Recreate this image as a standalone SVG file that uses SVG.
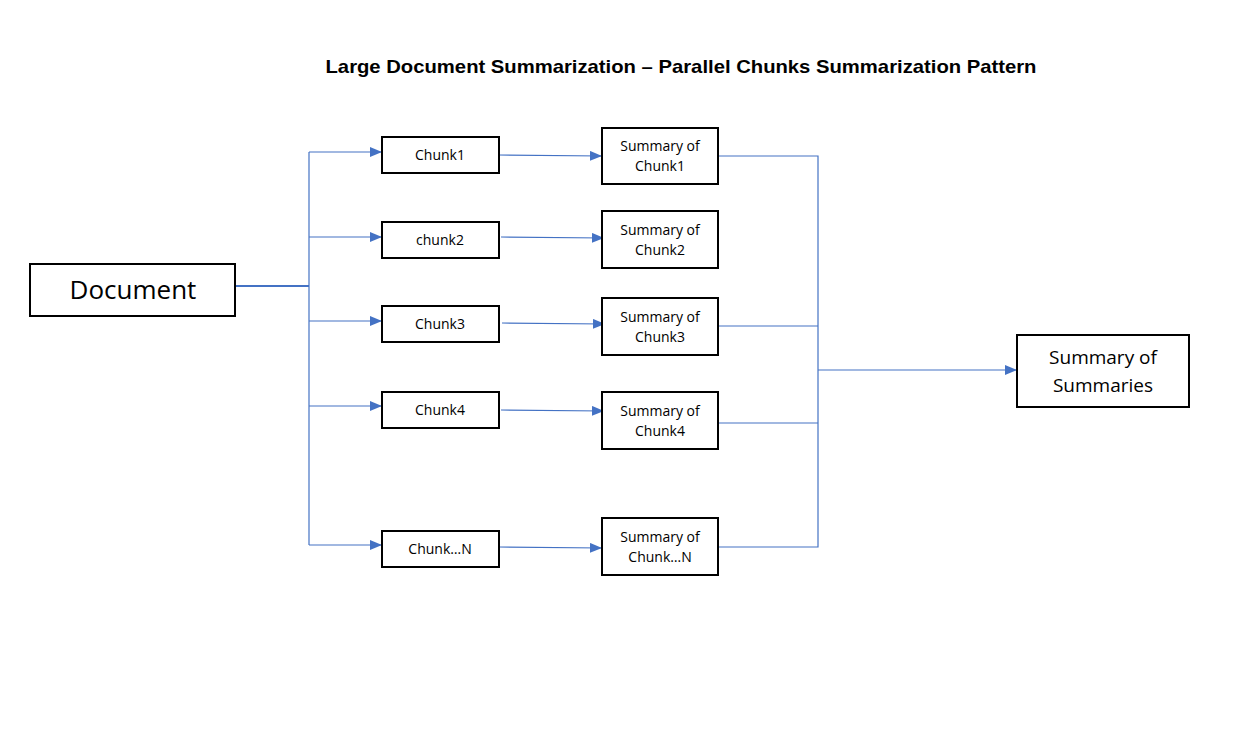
<svg xmlns="http://www.w3.org/2000/svg" width="1251" height="754" viewBox="0 0 1251 754">
<defs>
<marker id="ah" viewBox="0 0 12 10" refX="12" refY="5" markerWidth="12" markerHeight="10" markerUnits="userSpaceOnUse" orient="auto">
<path d="M0,0 L12,5 L0,10 Z" fill="#4472C4"/>
</marker>
<style>
.box{fill:#fff;stroke:#000;stroke-width:2}
.t{font-family:"Open Sans","Liberation Sans",sans-serif;fill:#000;text-anchor:middle}
.s{font-size:14px}
.c{fill:none;stroke:#4472C4;stroke-width:1.2}
.a{marker-end:url(#ah)}
</style>
</defs>
<rect width="1251" height="754" fill="#fff"/>
<text x="681" y="73" class="t" style="font-family:'Liberation Sans',sans-serif;font-size:19px;font-weight:bold" textLength="711" lengthAdjust="spacingAndGlyphs">Large Document Summarization – Parallel Chunks Summarization Pattern</text>
<g id="connectors">
<path class="c" style="stroke-width:2" d="M235,286 H309"/>
<path class="c" d="M309,152 V545"/>
<path class="c a" d="M309,152 H382"/>
<path class="c a" d="M309,237 H382"/>
<path class="c a" d="M309,321 H382"/>
<path class="c a" d="M309,406 H382"/>
<path class="c a" d="M309,545 H382"/>
<path class="c a" d="M499,155 L602,156"/>
<path class="c a" d="M501,237 L604,238"/>
<path class="c a" d="M502,323 L605,324"/>
<path class="c a" d="M501,410 L604,411"/>
<path class="c a" d="M499,547 L602,548"/>
<path class="c" d="M718,156 H818 V547 H718"/>
<path class="c" d="M718,326 H818"/>
<path class="c" d="M718,423 H818"/>
<path class="c a" d="M818,370 H1017"/>
</g>
<g id="document"><rect class="box" x="30" y="264" width="205" height="52"/><text class="t" x="133" y="299" font-size="26">Document</text></g>
<g id="chunk1"><rect class="box" x="382" y="137" width="117" height="36"/><text class="t s" x="440" y="160">Chunk1</text></g>
<g id="chunk2"><rect class="box" x="382" y="222" width="117" height="36"/><text class="t s" x="440" y="245">chunk2</text></g>
<g id="chunk3"><rect class="box" x="382" y="306" width="117" height="36"/><text class="t s" x="440" y="329">Chunk3</text></g>
<g id="chunk4"><rect class="box" x="382" y="392" width="117" height="36"/><text class="t s" x="440" y="415">Chunk4</text></g>
<g id="chunkN"><rect class="box" x="382" y="531" width="117" height="36"/><text class="t s" x="440" y="554">Chunk…N</text></g>
<g id="summary1"><rect class="box" x="602" y="128" width="116" height="56"/><text class="t s" x="660" y="151">Summary of</text><text class="t s" x="660" y="171">Chunk1</text></g>
<g id="summary2"><rect class="box" x="602" y="211" width="116" height="57"/><text class="t s" x="660" y="235">Summary of</text><text class="t s" x="660" y="255">Chunk2</text></g>
<g id="summary3"><rect class="box" x="602" y="298" width="116" height="57"/><text class="t s" x="660" y="322">Summary of</text><text class="t s" x="660" y="342">Chunk3</text></g>
<g id="summary4"><rect class="box" x="602" y="392" width="116" height="57"/><text class="t s" x="660" y="416">Summary of</text><text class="t s" x="660" y="436">Chunk4</text></g>
<g id="summaryN"><rect class="box" x="602" y="518" width="116" height="57"/><text class="t s" x="660" y="542">Summary of</text><text class="t s" x="660" y="562">Chunk…N</text></g>
<g id="summaryOfSummaries"><rect class="box" x="1017" y="335" width="172" height="72"/><text class="t" x="1103" y="364" font-size="19">Summary of</text><text class="t" x="1103" y="392" font-size="19">Summaries</text></g>
</svg>
